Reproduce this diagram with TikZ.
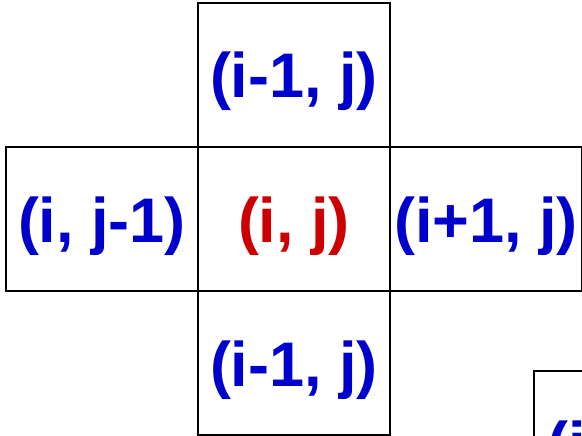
\documentclass[tikz,border=0pt]{standalone}
\usepackage{fontspec}
\setmainfont{Liberation Sans}
\definecolor{cblue}{RGB}{0,0,204}
\definecolor{cred}{RGB}{204,0,0}
\begin{document}
\begin{tikzpicture}[x=1pt,y=-1pt,
  cell/.style={draw=black,line width=2pt,minimum width=192pt,minimum height=144pt,inner sep=0pt},
  lbl/.style={font=\fontsize{63}{63}\selectfont\bfseries,text=cblue,anchor=base,inner sep=0pt}]
\useasboundingbox (0,0) rectangle (582,436);
\clip (0,0) rectangle (582,436);
\node[cell] (top) at (294,75) {};
\node[cell] (left) at (102,219) {};
\node[cell] (mid) at (294,219) {};
\node[cell] (right) at (486,219) {};
\node[cell] (bot) at (294,363) {};
\node[cell] (extra) at (630,443) {};
\node[lbl] (ttop) at ([yshift=-23pt]top.center) {(i-1, j)};
\node[lbl] (tleft) at ([yshift=-23pt]left.center) {(i, j-1)};
\node[lbl,text=cred] (tmid) at ([yshift=-23pt]mid.center) {(i, j)};
\node[lbl] (tright) at ([yshift=-23pt]right.center) {(i+1, j)};
\node[lbl] (tbot) at ([yshift=-23pt]bot.center) {(i-1, j)};
\node[lbl,anchor=base west] (textra) at ([xshift=14pt,yshift=-23pt]extra.west) {(i};
\end{tikzpicture}
\end{document}
